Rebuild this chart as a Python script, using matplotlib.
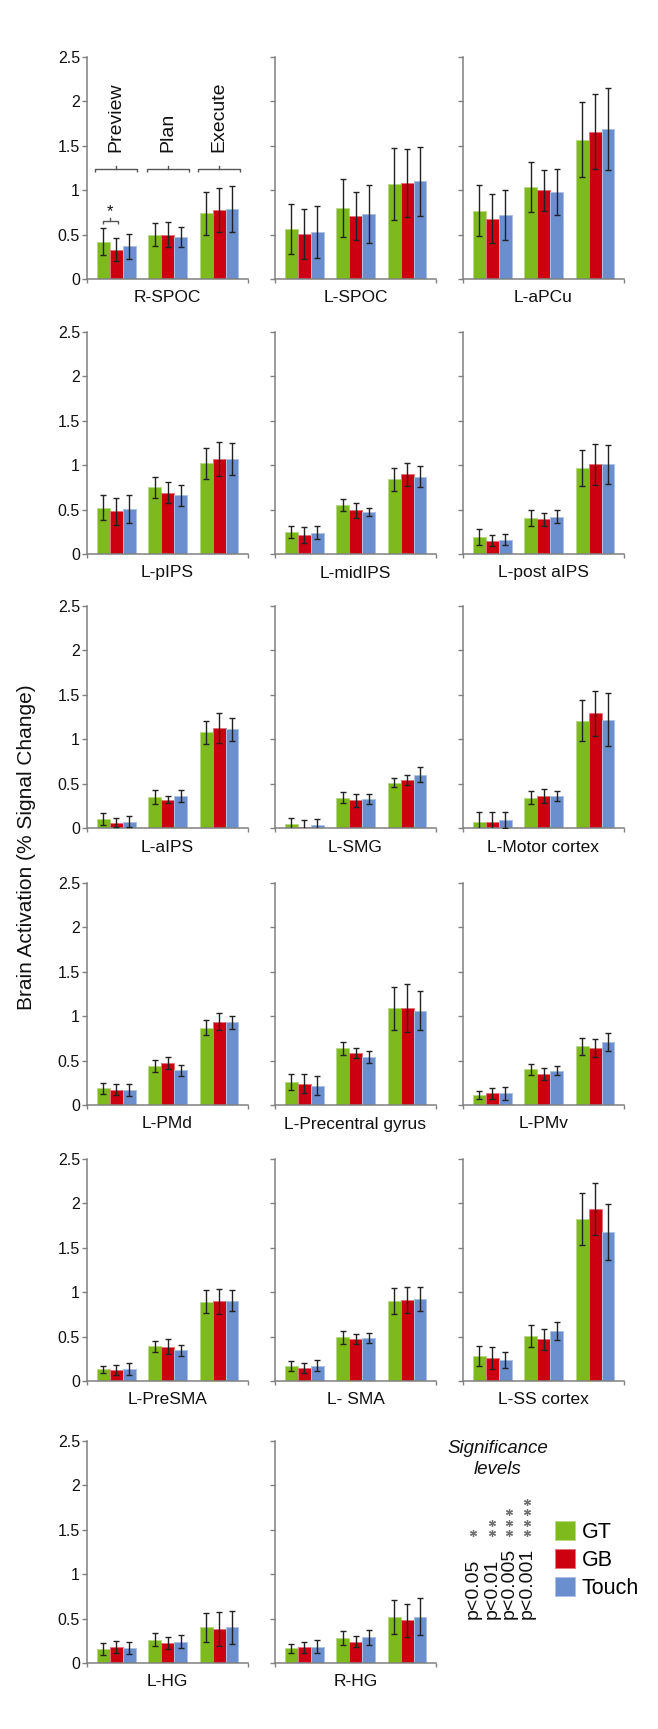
import numpy as np
import matplotlib
matplotlib.use("Agg")
import matplotlib.pyplot as plt
from matplotlib.patches import Patch
from matplotlib.lines import Line2D
from matplotlib.colors import to_rgb

plt.rcParams["font.family"] = ["Liberation Sans", "DejaVu Sans"]

# ---- data (% signal change; order Preview, Plan, Execute) ----
regions = ["R-SPOC", "L-SPOC", "L-aPCu",
           "L-pIPS", "L-midIPS", "L-post aIPS",
           "L-aIPS", "L-SMG", "L-Motor cortex",
           "L-PMd", "L-Precentral gyrus", "L-PMv",
           "L-PreSMA", "L- SMA", "L-SS cortex",
           "L-HG", "R-HG"]
phases = ["Preview", "Plan", "Execute"]
conditions = ["GT", "GB", "Touch"]

gt_mean = [[0.42, 0.50, 0.74], [0.56, 0.80, 1.07], [0.77, 1.04, 1.57],
           [0.52, 0.75, 1.02], [0.25, 0.55, 0.84], [0.19, 0.41, 0.97],
           [0.10, 0.35, 1.08], [0.04, 0.34, 0.51], [0.067, 0.34, 1.21],
           [0.19, 0.44, 0.87], [0.26, 0.64, 1.09], [0.11, 0.40, 0.66],
           [0.13, 0.39, 0.895], [0.166, 0.49, 0.90], [0.284, 0.507, 1.827],
           [0.158, 0.263, 0.40], [0.165, 0.282, 0.52]]
gb_mean = [[0.33, 0.50, 0.78], [0.51, 0.71, 1.08], [0.68, 1.00, 1.66],
           [0.48, 0.69, 1.07], [0.21, 0.49, 0.90], [0.15, 0.39, 1.01],
           [0.06, 0.32, 1.13], [0.015, 0.31, 0.54], [0.067, 0.36, 1.29],
           [0.17, 0.47, 0.94], [0.24, 0.59, 1.09], [0.13, 0.35, 0.645],
           [0.12, 0.385, 0.90], [0.147, 0.476, 0.91], [0.26, 0.469, 1.933],
           [0.184, 0.225, 0.383], [0.177, 0.237, 0.48]]
touch_mean = [[0.37, 0.47, 0.79], [0.53, 0.73, 1.10], [0.72, 0.98, 1.69],
              [0.51, 0.66, 1.07], [0.24, 0.47, 0.87], [0.16, 0.42, 1.01],
              [0.07, 0.36, 1.11], [0.037, 0.33, 0.60], [0.086, 0.36, 1.22],
              [0.17, 0.39, 0.93], [0.215, 0.54, 1.06], [0.13, 0.385, 0.71],
              [0.136, 0.344, 0.906], [0.174, 0.483, 0.925], [0.234, 0.56, 1.676],
              [0.173, 0.24, 0.40], [0.184, 0.29, 0.52]]

gt_err = [[0.15, 0.13, 0.24], [0.28, 0.33, 0.40], [0.29, 0.28, 0.42],
          [0.14, 0.12, 0.17], [0.07, 0.07, 0.13], [0.09, 0.09, 0.20],
          [0.07, 0.08, 0.13], [0.07, 0.06, 0.05], [0.11, 0.075, 0.235],
          [0.062, 0.072, 0.083], [0.087, 0.075, 0.24], [0.047, 0.057, 0.10],
          [0.043, 0.058, 0.125], [0.057, 0.07, 0.143], [0.11, 0.125, 0.29],
          [0.063, 0.075, 0.165], [0.05, 0.08, 0.19]]
gb_err = [[0.13, 0.14, 0.25], [0.28, 0.27, 0.38], [0.28, 0.23, 0.42],
          [0.15, 0.12, 0.19], [0.09, 0.08, 0.13], [0.06, 0.07, 0.23],
          [0.053, 0.038, 0.17], [0.075, 0.077, 0.06], [0.11, 0.08, 0.255],
          [0.063, 0.068, 0.10], [0.11, 0.057, 0.27], [0.064, 0.064, 0.10],
          [0.057, 0.085, 0.14], [0.058, 0.058, 0.143], [0.12, 0.115, 0.293],
          [0.068, 0.07, 0.19], [0.06, 0.062, 0.19]]
touch_err = [[0.14, 0.11, 0.26], [0.29, 0.33, 0.39], [0.28, 0.26, 0.46],
             [0.16, 0.12, 0.18], [0.07, 0.045, 0.12], [0.06, 0.075, 0.22],
             [0.062, 0.066, 0.13], [0.063, 0.055, 0.085], [0.09, 0.055, 0.295],
             [0.068, 0.066, 0.077], [0.107, 0.07, 0.22], [0.07, 0.05, 0.105],
             [0.066, 0.064, 0.123], [0.057, 0.053, 0.136], [0.09, 0.103, 0.316],
             [0.068, 0.07, 0.185], [0.07, 0.085, 0.21]]

sig_levels = ["p<0.05", "p<0.01", "p<0.005", "p<0.001"]
sig_stars = [1, 2, 3, 4]

COLORS = ["#7EBA1E", "#CC0011", "#6A8ECE"]
SPINE = "#808080"

# ---- layout in pixels ----
W, H = 658, 1729
COL_X = [87, 275, 463]
ROW_TOP = [57, 332, 606, 883, 1159, 1441]
AX_W, AX_H = 161, 222
BAR_W = 0.25
XLIM = (-0.57, 2.56)


def rect(x, top, w, h):
    return [x / W, 1 - (top + h) / H, w / W, h / H]


def tint(c, f=0.45):
    r, g, b = to_rgb(c)
    return (r + (1 - r) * f, g + (1 - g) * f, b + (1 - b) * f)


def bracket(ax, x0, x1, y, drop, nub, lw=1.0, color="#555555"):
    xm = 0.5 * (x0 + x1)
    ax.plot([x0, x0, x1, x1], [y - drop, y, y, y - drop], color=color, lw=lw,
            clip_on=False, solid_capstyle="butt")
    ax.plot([xm, xm], [y, y + nub], color=color, lw=lw, clip_on=False)


fig = plt.figure(figsize=(W / 100, H / 100), dpi=100)
fig.patch.set_facecolor("white")

means = [gt_mean, gb_mean, touch_mean]
errs = [gt_err, gb_err, touch_err]
x = np.arange(len(phases))

for i, name in enumerate(regions):
    r, c = divmod(i, 3)
    ax = fig.add_axes(rect(COL_X[c], ROW_TOP[r], AX_W, AX_H))
    for k in range(3):
        ax.bar(x + (k - 1) * BAR_W, means[k][i], BAR_W, color=COLORS[k],
               edgecolor=tint(COLORS[k]), linewidth=0.7, zorder=2)
        ax.errorbar(x + (k - 1) * BAR_W, means[k][i], yerr=errs[k][i], fmt="none",
                    ecolor="#222222", elinewidth=1.0, capsize=2.3, capthick=1.0,
                    zorder=3)
    ax.set_xlim(*XLIM)
    ax.set_ylim(0, 2.5)
    ax.set_yticks(np.arange(0, 2.51, 0.5))
    ax.set_yticklabels(["0", "0.5", "1", "1.5", "2", "2.5"] if c == 0 else [])
    ax.set_xticks(list(XLIM))
    ax.set_xticklabels([])
    for s in ("top", "right"):
        ax.spines[s].set_visible(False)
    for s in ("left", "bottom"):
        ax.spines[s].set_color(SPINE)
        ax.spines[s].set_linewidth(1.1)
    ax.tick_params(axis="y", direction="out", length=3.6, width=1.0, color=SPINE,
                   labelsize=11.5, pad=1.5, labelcolor="#111111")
    ax.tick_params(axis="x", direction="out", length=3.0, width=1.0, color=SPINE)
    ax.set_facecolor("none")
    ax.annotate(name, xy=(0.5, 0), xycoords="axes fraction",
                xytext=(0, -19 * 0.72), textcoords="offset points",
                ha="center", va="center", fontsize=12.5, color="#111111")

    if i == 0:
        for g, ph in enumerate(phases):
            bracket(ax, g - 0.41, g + 0.41, 1.235, 0.035, 0.04)
            ax.text(g, 1.43, ph, rotation=90, ha="center", va="bottom",
                    fontsize=14, color="#111111")
        # GT vs GB preview difference
        bracket(ax, -0.26, 0.03, 0.653, 0.035, 0.03)
        ax.text(-0.12, 0.76, "*", ha="center", va="center", fontsize=12,
                color="#111111")

# y label
fig.text(27 / W, 1 - 847 / H, "Brain Activation (% Signal Change)", rotation=90,
         ha="center", va="center", fontsize=15, color="#111111")

# significance key
fig.text(498 / W, 1 - 1459 / H, "Significance\nlevels", style="italic",
         ha="center", va="center", fontsize=13.5, linespacing=1.25, color="#111111")
SIG_X = [473, 492, 509, 527]
for xp, lab, n in zip(SIG_X, sig_levels, sig_stars):
    fig.text(xp / W, 1 - 1619 / H, lab, rotation=90, ha="center", va="bottom",
             fontsize=14, color="#111111")
    ys = [1 - (1533 - 10.5 * j) / H for j in range(n)]
    fig.add_artist(Line2D([xp / W] * n, ys, transform=fig.transFigure,
                          linestyle="none", marker=(6, 2, 0), markersize=5,
                          markeredgewidth=0.9, color="#707070"))

handles = [Patch(facecolor=col, edgecolor=tint(col), linewidth=0.7, label=lab)
           for col, lab in zip(COLORS, conditions)]
fig.legend(handles=handles, loc="upper left", bbox_to_anchor=(555 / W, 1 - 1521 / H),
           frameon=False, fontsize=15.5, handlelength=0.95, handleheight=0.95,
           handletextpad=0.3, labelspacing=0.3, borderpad=0, borderaxespad=0)

fig.savefig("out.png", dpi=100, facecolor="white")
